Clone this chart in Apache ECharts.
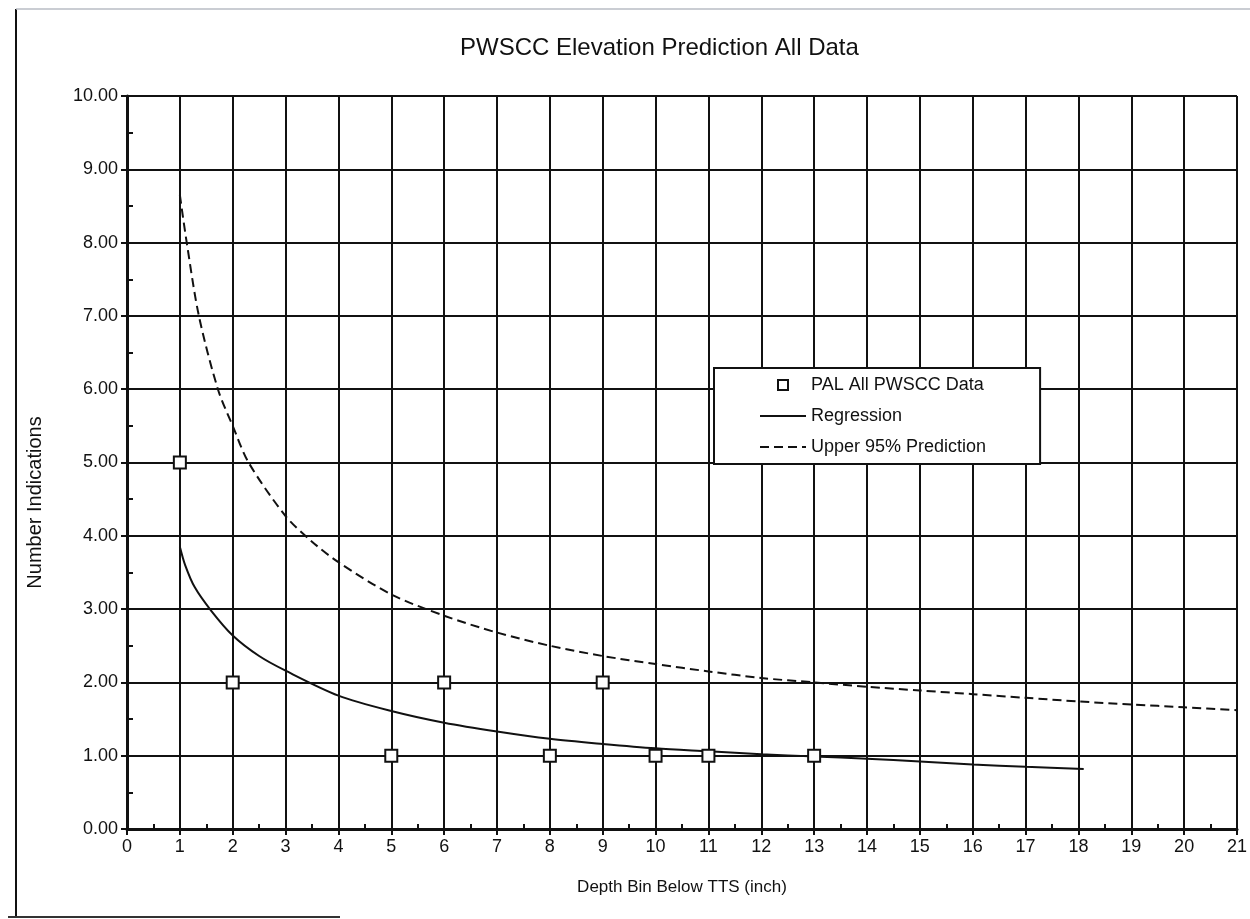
<!DOCTYPE html>
<html>
<head>
<meta charset="utf-8">
<script src="https://cdn.jsdelivr.net/npm/echarts@6/dist/echarts.min.js"></script>
<style>
  html, body { margin: 0; padding: 0; background: #ffffff; }
  #chart { width: 1250px; height: 919px; }
</style>
</head>
<body>
<div id="chart"></div>
<script>
// ---- Data ----
const dataX = [1, 2, 5, 6, 8, 9, 10, 11, 13];
const dataY = [5, 2, 1, 2, 1, 2, 1, 1, 1];

const regX = [1.0, 1.1, 1.28, 1.59, 2.0, 2.5, 3.0, 4.0, 5.0, 6.0, 7.0, 8.0, 9.0, 10.0, 11.0, 12.0, 13.0, 14.0, 15.0, 16.0, 17.0, 18.1];
const regY = [3.85, 3.6, 3.3, 2.98, 2.64, 2.36, 2.16, 1.82, 1.61, 1.45, 1.33, 1.23, 1.16, 1.10, 1.06, 1.02, 0.99, 0.96, 0.92, 0.88, 0.85, 0.82];

const upX = [1.0, 1.13, 1.36, 1.72, 2.0, 2.3, 3.0, 3.5, 4.0, 5.0, 6.0, 7.0, 8.0, 9.0, 10.0, 11.0, 12.0, 13.0, 14.0, 15.0, 16.0, 17.0, 18.0, 19.0, 20.0, 21.0];
const upY = [8.65, 8.0, 7.0, 6.0, 5.5, 5.0, 4.27, 3.92, 3.64, 3.2, 2.91, 2.68, 2.5, 2.36, 2.25, 2.15, 2.06, 2.0, 1.94, 1.89, 1.84, 1.79, 1.74, 1.70, 1.66, 1.62];

const seriesNames = ['PAL All PWSCC Data', 'Regression', 'Upper 95% Prediction'];
const titleText = 'PWSCC Elevation Prediction All Data';
const xName = 'Depth Bin Below TTS (inch)';
const yName = 'Number Indications';

function pairs(xs, ys) { return xs.map((x, i) => [x, ys[i]]); }

const FONT = '"Liberation Sans", Arial, sans-serif';
const chart = echarts.init(document.getElementById('chart'), null, { renderer: 'canvas' });

const hiddenDot = { color: 'rgba(0,0,0,0)', borderColor: 'rgba(0,0,0,0)', borderWidth: 0, opacity: 0 };

const option = {
  backgroundColor: '#ffffff',
  animation: false,
  title: {
    text: titleText,
    left: 455,
    top: 31,
    textStyle: { fontFamily: FONT, fontSize: 24, fontWeight: 'normal', color: '#111' }
  },
  grid: { left: 127, right: 12, top: 96, bottom: 90, show: false },
  legend: {
    orient: 'vertical',
    left: 714,
    top: 368,
    padding: [8, 54, 8, 45],
    itemWidth: 46,
    itemHeight: 10,
    itemGap: 13,
    backgroundColor: '#ffffff',
    borderColor: '#111',
    borderWidth: 2,
    textStyle: { fontFamily: FONT, fontSize: 18, color: '#111' },
    data: [
      { name: seriesNames[0], icon: 'path://M0,0 M46,10 M18,0 L28,0 L28,10 L18,10 Z',
        itemStyle: { color: '#ffffff', borderColor: '#111', borderWidth: 2 } },
      { name: seriesNames[1], itemStyle: hiddenDot },
      { name: seriesNames[2], itemStyle: hiddenDot }
    ]
  },
  xAxis: [
    {
      type: 'value', min: 0, max: 21, interval: 1,
      name: xName, nameLocation: 'middle', nameGap: 50,
      nameTextStyle: { fontFamily: FONT, fontSize: 17, color: '#111' },
      axisLine: { show: true, onZero: false, lineStyle: { color: '#111', width: 3 } },
      axisTick: { show: true, inside: false, length: 6, lineStyle: { color: '#111', width: 2 } },
      axisLabel: { fontFamily: FONT, fontSize: 18, color: '#111', margin: 9 },
      splitLine: { show: true, lineStyle: { color: '#111', width: 2 } }
    },
    {
      type: 'value', min: 0, max: 21, interval: 0.5, position: 'bottom',
      axisLine: { show: false },
      axisTick: { show: true, inside: true, length: 5, lineStyle: { color: '#111', width: 2 } },
      axisLabel: { show: false },
      splitLine: { show: false }
    }
  ],
  yAxis: [
    {
      type: 'value', min: 0, max: 10, interval: 1,
      name: yName, nameLocation: 'middle', nameGap: 82, nameRotate: 90,
      nameTextStyle: { fontFamily: FONT, fontSize: 20, color: '#111', padding: [0, 80, 0, 0] },
      axisLine: { show: true, onZero: false, lineStyle: { color: '#111', width: 3 } },
      axisTick: { show: true, inside: false, length: 6, lineStyle: { color: '#111', width: 2 } },
      axisLabel: { fontFamily: FONT, fontSize: 18, color: '#111', margin: 9,
        formatter: v => v.toFixed(2) },
      splitLine: { show: true, lineStyle: { color: '#111', width: 2 } }
    },
    {
      type: 'value', min: 0, max: 10, interval: 0.5, position: 'left',
      axisLine: { show: false },
      axisTick: { show: true, inside: true, length: 6, lineStyle: { color: '#111', width: 2 } },
      axisLabel: { show: false },
      splitLine: { show: false }
    }
  ],
  series: [
    {
      name: seriesNames[1], type: 'line', xAxisIndex: 0, yAxisIndex: 0,
      data: pairs(regX, regY), symbol: 'none', showSymbol: false,
      smooth: 0.3,
      lineStyle: { color: '#111', width: 2, type: 'solid' },
      itemStyle: { color: '#111' }, z: 3
    },
    {
      name: seriesNames[2], type: 'line', xAxisIndex: 0, yAxisIndex: 0,
      data: pairs(upX, upY), symbol: 'none', showSymbol: false,
      smooth: 0.3,
      lineStyle: { color: '#111', width: 2, type: [9, 5] },
      itemStyle: { color: '#111' }, z: 3
    },
    {
      name: seriesNames[0], type: 'scatter', xAxisIndex: 0, yAxisIndex: 0,
      data: pairs(dataX, dataY), symbol: 'rect', symbolSize: 12,
      itemStyle: { color: '#ffffff', borderColor: '#111', borderWidth: 2, opacity: 1 },
      z: 4
    }
  ],
  graphic: [
    { type: 'line', shape: { x1: 16, y1: 9, x2: 16, y2: 917 }, style: { stroke: '#111', lineWidth: 2 } },
    { type: 'line', shape: { x1: 16, y1: 9, x2: 1250, y2: 9 }, style: { stroke: '#b8bcc4', lineWidth: 1.5 } },
    { type: 'line', shape: { x1: 8, y1: 917, x2: 340, y2: 917 }, style: { stroke: '#333', lineWidth: 2 } }
  ]
};

chart.setOption(option);
</script>
</body>
</html>
